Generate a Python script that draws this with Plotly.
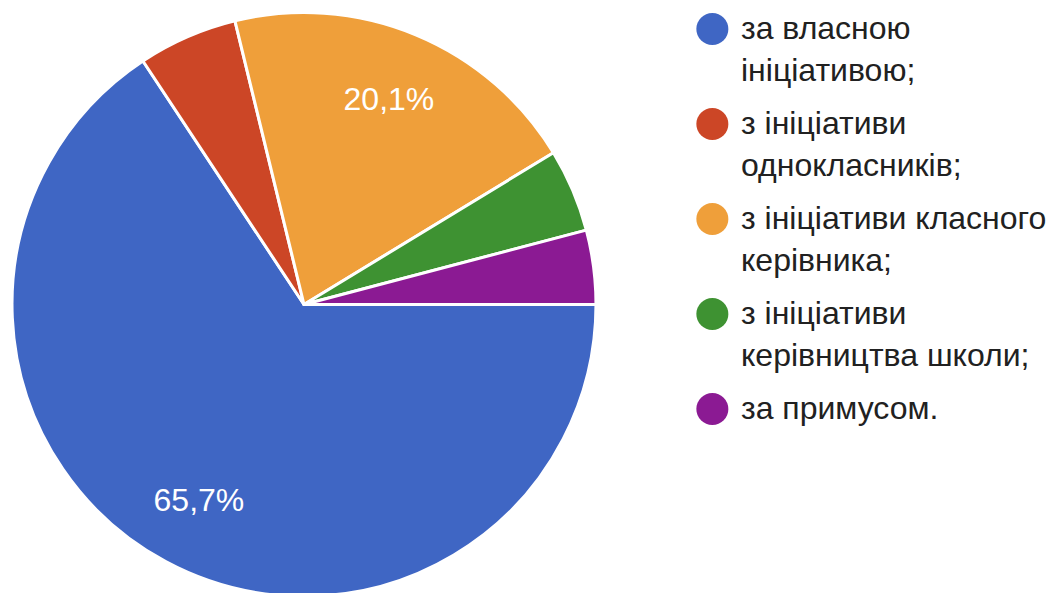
import plotly.graph_objects as go

# дані з діаграми
labels = [
    "за власною<br>ініціативою;",
    "з ініціативи<br>однокласників;",
    "з ініціативи класного<br>керівника;",
    "з ініціативи<br>керівництва школи;",
    "за примусом.",
]
values = [65.7, 5.5, 20.1, 4.6, 4.1]
shown_text = ["65,7%", "", "20,1%", "", ""]
colors = ["#3f66c4", "#cc4626", "#ef9f3a", "#3e9232", "#8b1a93"]

FONT = "Liberation Sans, Arial, Helvetica, sans-serif"
PIE_DOMAIN = dict(x=[0.0038, 0.5568], y=[0, 1])

fig = go.Figure()

# сам пиріг
fig.add_trace(go.Pie(
    values=values, labels=labels, sort=False, direction="clockwise",
    rotation=90, textinfo="none", showlegend=False, hoverinfo="label+percent",
    marker=dict(colors=colors, line=dict(color="white", width=3)),
    domain=PIE_DOMAIN,
))

# прозоре кільце лише для підписів (щоб вони стояли ближче до краю)
fig.add_trace(go.Pie(
    values=values, labels=labels, sort=False, direction="clockwise",
    rotation=90, hole=0.52, text=shown_text, textinfo="text",
    textposition="inside", insidetextorientation="horizontal",
    textfont=dict(family=FONT, size=32, color="white"),
    marker=dict(colors=["rgba(0,0,0,0)"] * len(values)),
    showlegend=False, hoverinfo="skip",
    domain=PIE_DOMAIN,
))

# власна легенда: великі круглі маркери + підписи
idx = list(range(len(labels)))
fig.add_trace(go.Scatter(
    x=[0.667] * len(labels), y=idx, mode="markers", showlegend=False,
    hoverinfo="skip",
    marker=dict(color=colors, size=32, symbol="circle", line=dict(width=0)),
))
for i, lab in zip(idx, labels):
    fig.add_annotation(
        x=0.692, y=i, xref="x", yref="y", text=lab, showarrow=False,
        xanchor="left", yanchor="top", align="left", yshift=21,
        font=dict(family=FONT, size=32, color="#212121"),
    )

fig.update_layout(
    width=1056, height=593,
    margin=dict(l=0, r=0, t=0, b=0),
    paper_bgcolor="white", plot_bgcolor="rgba(0,0,0,0)",
    showlegend=False,
    xaxis=dict(visible=False, range=[0, 1], domain=[0, 1], fixedrange=True),
    yaxis=dict(visible=False, range=[6.021, -0.221], domain=[0, 1], fixedrange=True),
)

fig.write_html("out.html")
